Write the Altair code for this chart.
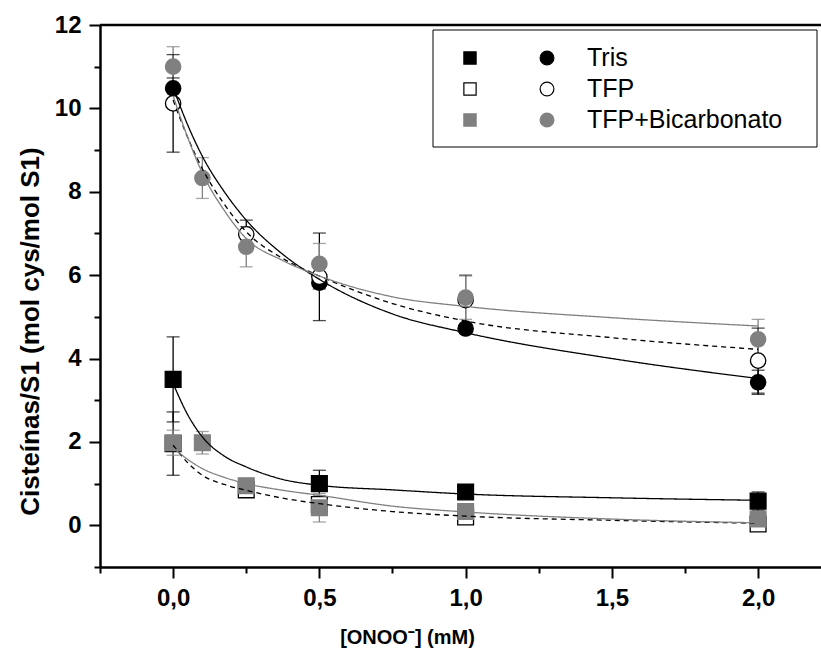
import altair as alt
import pandas as pd

# ---------------- data ----------------
series_names = ["Tris", "TFP", "TFP+Bicarbonato"]

conc_tris = [0.0, 0.5, 1.0, 2.0]
circ_tris = [10.48, 5.82, 4.72, 3.43]
circ_err_tris = [0.25, 0.15, 0.10, 0.29]
sq_tris = [3.50, 1.00, 0.80, 0.58]
sq_err_tris = [1.02, 0.32, 0.08, 0.22]

conc_tfp = [0.0, 0.25, 0.5, 1.0, 2.0]
circ_tfp = [10.12, 6.98, 5.96, 5.40, 3.95]
circ_err_tfp = [1.17, 0.34, 1.05, 0.60, 0.78]
sq_tfp = [1.96, 0.85, 0.50, 0.20, 0.03]
sq_err_tfp = [0.76, 0.08, 0.20, 0.05, 0.05]

conc_bic = [0.0, 0.1, 0.25, 0.5, 1.0, 2.0]
circ_bic = [11.00, 8.33, 6.68, 6.27, 5.46, 4.46]
circ_err_bic = [0.48, 0.49, 0.48, 0.49, 0.52, 0.48]
sq_bic = [1.98, 1.98, 0.95, 0.42, 0.33, 0.15]
sq_err_bic = [0.30, 0.27, 0.10, 0.34, 0.10, 0.10]

# fitted curves
curve_x = [0.0, 0.05, 0.1, 0.175, 0.25, 0.375, 0.5, 0.75, 1.0, 1.5, 2.0]
fit_circ_tris = [10.50, 9.60, 8.85, 8.00, 7.32, 6.50, 5.90, 5.07, 4.62, 4.00, 3.52]
fit_circ_tfp = [10.20, 9.30, 8.55, 7.70, 7.04, 6.40, 5.98, 5.32, 4.90, 4.50, 4.22]
fit_circ_bic = [10.30, 9.30, 8.45, 7.55, 6.88, 6.35, 5.98, 5.48, 5.25, 4.98, 4.78]
fit_sq_tris = [3.40, 2.65, 2.12, 1.66, 1.40, 1.10, 0.96, 0.85, 0.75, 0.66, 0.60]
fit_sq_tfp = [1.92, 1.50, 1.20, 0.98, 0.84, 0.65, 0.52, 0.33, 0.22, 0.12, 0.05]
fit_sq_bic = [1.86, 1.58, 1.36, 1.15, 1.00, 0.84, 0.72, 0.46, 0.32, 0.15, 0.06]

x_ticks = [-0.25, 0.0, 0.25, 0.5, 0.75, 1.0, 1.25, 1.5, 1.75, 2.0]
y_ticks = list(range(-1, 13))

# ---------------- tables ----------------
rows = []
for name, xs, cy, ce, sy, se in [
    ("Tris", conc_tris, circ_tris, circ_err_tris, sq_tris, sq_err_tris),
    ("TFP", conc_tfp, circ_tfp, circ_err_tfp, sq_tfp, sq_err_tfp),
    ("TFP+Bicarbonato", conc_bic, circ_bic, circ_err_bic, sq_bic, sq_err_bic),
]:
    for x, v, e in zip(xs, sy, se):
        rows.append(dict(conc=x, val=v, lo=v - e, hi=v + e, series=name, kind="square"))
    for x, v, e in zip(xs, cy, ce):
        rows.append(dict(conc=x, val=v, lo=v - e, hi=v + e, series=name, kind="circle"))
pts = pd.DataFrame(rows)

caps = pd.concat([
    pts[["conc", "lo", "series"]].rename(columns={"lo": "cap"}),
    pts[["conc", "hi", "series"]].rename(columns={"hi": "cap"}),
])

crv = []
for name, kind, ys in [
    ("Tris", "circle", fit_circ_tris), ("TFP", "circle", fit_circ_tfp),
    ("TFP+Bicarbonato", "circle", fit_circ_bic),
    ("Tris", "square", fit_sq_tris), ("TFP", "square", fit_sq_tfp),
    ("TFP+Bicarbonato", "square", fit_sq_bic),
]:
    for x, y in zip(curve_x, ys):
        crv.append(dict(conc=x, val=y, series=name, grp=name + kind))
curves = pd.DataFrame(crv)

FONT = "Liberation Sans"
fill_scale = alt.Scale(domain=series_names, range=["#000000", "#ffffff", "#808080"])
stroke_scale = alt.Scale(domain=series_names, range=["#000000", "#000000", "#808080"])
dash_scale = alt.Scale(domain=series_names, range=[[1, 0], [5, 4], [1, 0]])

W, H = 721, 542
xs = alt.Scale(domain=[-0.25, 2.215], nice=False, zero=False)
ys = alt.Scale(domain=[-1, 12], nice=False, zero=False)

x_axis = alt.Axis(
    values=x_ticks,
    labelExpr="datum.value >= 0 && abs(datum.value*2 - round(datum.value*2)) < 0.001 ? replace(format(datum.value, '.1f'), '.', ',') : ''",
    tickSize={"condition": {"test": "abs(datum.value*2 - round(datum.value*2)) < 0.001", "value": 11}, "value": 6},
    grid=False, domainWidth=2.5, tickWidth=2, domainColor="black", tickColor="black",
    labelFont=FONT, labelFontSize=24, labelFontWeight="bold", labelColor="black",
    labelPadding=8, labelFlush=False, labelOverlap=False,
    title="[ONOO⁻] (mM)", titleFont=FONT, titleFontSize=20, titleFontWeight="bold",
    titleColor="black", titlePadding=17, titleX=307, titleAlign="center",
)
y_axis = alt.Axis(
    values=y_ticks,
    labelExpr="datum.value % 2 == 0 ? format(datum.value, 'd') : ''",
    tickSize={"condition": {"test": "datum.value % 2 == 0", "value": 11}, "value": 6},
    grid=False, domainWidth=2.5, tickWidth=2, domainColor="black", tickColor="black",
    labelFont=FONT, labelFontSize=24, labelFontWeight="bold", labelColor="black",
    labelPadding=8, labelFlush=False, labelOverlap=False,
    title="Cisteínas/S1 (mol cys/mol S1)", titleFont=FONT, titleFontSize=26,
    titleFontWeight="bold", titleColor="black", titlePadding=11, titleY=306,
    titleAlign="center",
)

base = alt.Chart(pts)

bars = base.mark_rule(strokeWidth=1.3).encode(
    x=alt.X("conc:Q", scale=xs, axis=x_axis),
    y=alt.Y("lo:Q", scale=ys, axis=y_axis),
    y2="hi:Q",
    color=alt.Color("series:N", scale=stroke_scale, legend=None),
)
cap_marks = alt.Chart(caps).mark_tick(orient="horizontal", size=13, thickness=1.3).encode(
    x=alt.X("conc:Q", scale=xs),
    y=alt.Y("cap:Q", scale=ys),
    color=alt.Color("series:N", scale=stroke_scale, legend=None),
)
markers = base.mark_point(opacity=1, fillOpacity=1, strokeWidth=1.3).encode(
    x=alt.X("conc:Q", scale=xs),
    y=alt.Y("val:Q", scale=ys),
    shape=alt.Shape("kind:N", scale=alt.Scale(domain=["circle", "square"], range=["circle", "square"]), legend=None),
    size=alt.Size("kind:N", scale=alt.Scale(domain=["circle", "square"], range=[235, 250]), legend=None),
    fill=alt.Fill("series:N", scale=fill_scale, legend=None),
    stroke=alt.Stroke("series:N", scale=stroke_scale, legend=None),
)
lines = alt.Chart(curves).mark_line(strokeWidth=1.3, interpolate="monotone").encode(
    x=alt.X("conc:Q", scale=xs),
    y=alt.Y("val:Q", scale=ys),
    detail="grp:N",
    color=alt.Color("series:N", scale=stroke_scale, legend=None),
    strokeDash=alt.StrokeDash("series:N", scale=dash_scale, legend=None),
)

top_line = alt.Chart(pd.DataFrame({"a": [0]})).mark_rule(color="black", strokeWidth=2.5).encode(
    x=alt.value(0), x2=alt.value(W), y=alt.value(0)
)

# legend drawn inside the plot
legend_layers = [
    alt.Chart(pd.DataFrame({"a": [0]})).mark_rect(fill="white", stroke="black", strokeWidth=1).encode(
        x=alt.value(333), x2=alt.value(717), y=alt.value(5), y2=alt.value(122)
    )
]
fills = ["#000000", "#ffffff", "#808080"]
strokes = ["#000000", "#000000", "#808080"]
for name, fy, fc, sc in zip(series_names, [33, 64, 95], fills, strokes):
    d = pd.DataFrame({"label": [name]})
    legend_layers.append(alt.Chart(d).mark_point(shape="square", size=150, opacity=1, fill=fc, stroke=sc,
                                                 fillOpacity=1, strokeWidth=1.2).encode(x=alt.value(370), y=alt.value(fy)))
    legend_layers.append(alt.Chart(d).mark_point(shape="circle", size=190, opacity=1, fill=fc, stroke=sc,
                                                 fillOpacity=1, strokeWidth=1.2).encode(x=alt.value(447), y=alt.value(fy)))
    legend_layers.append(alt.Chart(d).mark_text(align="left", baseline="middle", font=FONT, fontSize=25,
                                                color="black").encode(x=alt.value(487), y=alt.value(fy), text="label:N"))

chart = alt.layer(bars, cap_marks, markers, lines, top_line, *legend_layers).properties(
    width=W, height=H,
    autosize=alt.AutoSizeParams(type="none"),
    padding={"left": 100, "top": 25, "right": 0, "bottom": 96},
).configure_view(stroke=None).configure(background="white")

chart.save("out.html", embed_options={"renderer": "svg", "actions": False})
